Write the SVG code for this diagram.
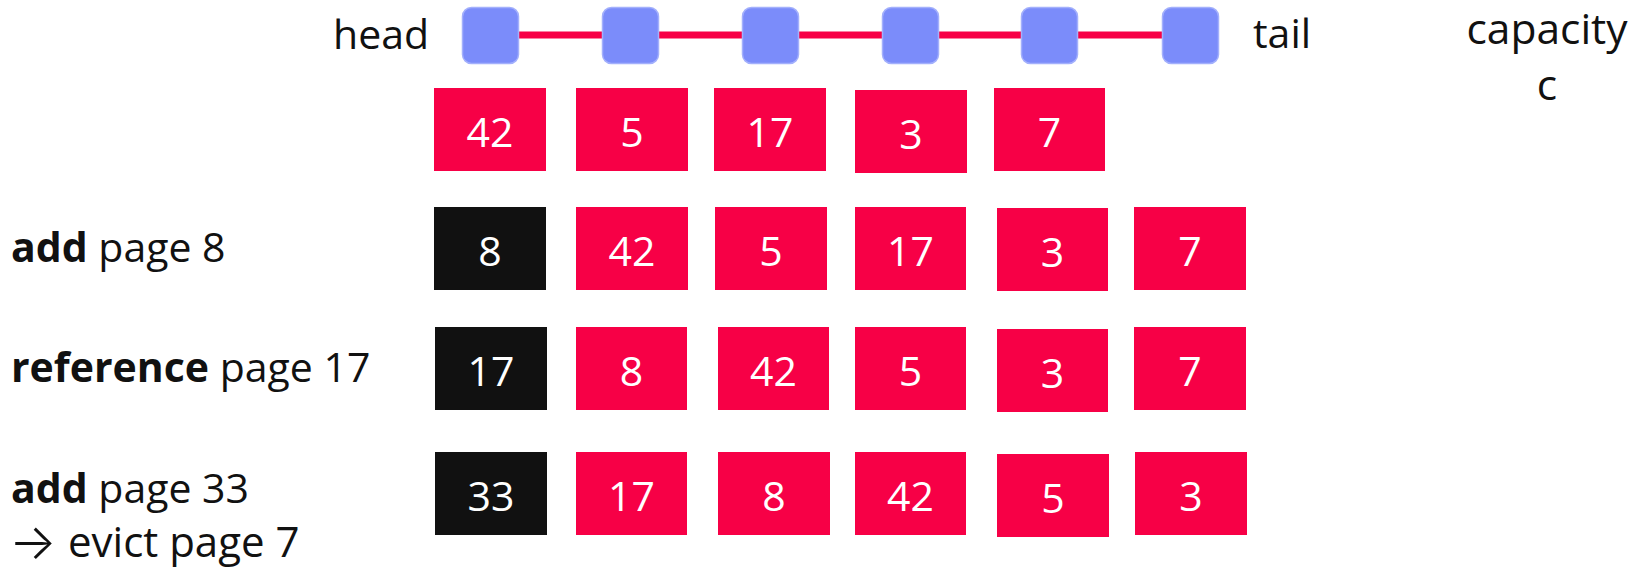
<svg xmlns="http://www.w3.org/2000/svg" width="1639" height="571" viewBox="0 0 1639 571">
<style>
.lbl{font-family:"Open Sans","Noto Sans","DejaVu Sans",sans-serif;font-size:41px;fill:#111111}
.b{font-weight:bold}
.arr{font-family:Inter,"DejaVu Sans",sans-serif;font-size:50px;font-weight:300}
.num{font-family:"Open Sans","Noto Sans",sans-serif;font-size:41px;fill:#ffffff;text-anchor:middle}
.red{fill:#F70046}
.blk{fill:#111111}
.node{fill:#7B8CFA;stroke:#A3B0FC;stroke-width:1.5}
.link{stroke:#F70046;stroke-width:7;fill:none}
</style>
<rect width="1639" height="571" fill="#ffffff"/>
<g id="connectors">
<line class="link" x1="519" y1="35" x2="602" y2="35"/>
<line class="link" x1="659" y1="35" x2="742" y2="35"/>
<line class="link" x1="799" y1="35" x2="882" y2="35"/>
<line class="link" x1="939" y1="35" x2="1021" y2="35"/>
<line class="link" x1="1078" y1="35" x2="1162" y2="35"/>
</g>
<g id="list-nodes">
<rect id="n1" class="node" x="462.5" y="7.5" width="56" height="56" rx="9"/>
<rect id="n2" class="node" x="602.5" y="7.5" width="56" height="56" rx="9"/>
<rect id="n3" class="node" x="742.5" y="7.5" width="56" height="56" rx="9"/>
<rect id="n4" class="node" x="882.5" y="7.5" width="56" height="56" rx="9"/>
<rect id="n5" class="node" x="1021.5" y="7.5" width="56" height="56" rx="9"/>
<rect id="n6" class="node" x="1162.5" y="7.5" width="56" height="56" rx="9"/>
</g>
<g id="labels">
<text class="lbl" x="333" y="49">head</text>
<text class="lbl" x="1253" y="48">tail</text>
<text class="lbl" x="1547" y="44" text-anchor="middle" style="font-size:42.5px">capacity</text>
<text class="lbl" x="1547" y="100" text-anchor="middle" style="font-size:42.5px">c</text>
<text class="lbl" x="11" y="262"><tspan class="b">add</tspan> page 8</text>
<text class="lbl" x="11" y="382"><tspan class="b">reference</tspan> page 17</text>
<text class="lbl" x="11" y="503"><tspan class="b">add</tspan> page 33</text>
<text class="lbl" x="9" y="558.5"><tspan class="arr">→</tspan><tspan x="68" y="556.5" style="font-size:42px">evict page 7</tspan></text>
</g>
<g id="row1">
<g id="r1c1"><rect class="red" x="434" y="88" width="112" height="83"/><text class="num" x="490" y="146.5">42</text></g>
<g id="r1c2"><rect class="red" x="576" y="88" width="112" height="83"/><text class="num" x="632" y="146.5">5</text></g>
<g id="r1c3"><rect class="red" x="714" y="88" width="112" height="83"/><text class="num" x="770" y="146.5">17</text></g>
<g id="r1c4"><rect class="red" x="855" y="90" width="112" height="83"/><text class="num" x="911" y="148.5">3</text></g>
<g id="r1c5"><rect class="red" x="994" y="88" width="111" height="83"/><text class="num" x="1049.5" y="146.5">7</text></g>
</g>
<g id="row2">
<g id="r2c1"><rect class="blk" x="434" y="207" width="112" height="83"/><text class="num" x="490" y="265.5">8</text></g>
<g id="r2c2"><rect class="red" x="576" y="207" width="112" height="83"/><text class="num" x="632" y="265.5">42</text></g>
<g id="r2c3"><rect class="red" x="715" y="207" width="112" height="83"/><text class="num" x="771" y="265.5">5</text></g>
<g id="r2c4"><rect class="red" x="855" y="207" width="111" height="83"/><text class="num" x="910.5" y="265.5">17</text></g>
<g id="r2c5"><rect class="red" x="997" y="208" width="111" height="83"/><text class="num" x="1052.5" y="266.5">3</text></g>
<g id="r2c6"><rect class="red" x="1134" y="207" width="112" height="83"/><text class="num" x="1190" y="265.5">7</text></g>
</g>
<g id="row3">
<g id="r3c1"><rect class="blk" x="435" y="327" width="112" height="83"/><text class="num" x="491" y="385.5">17</text></g>
<g id="r3c2"><rect class="red" x="576" y="327" width="111" height="83"/><text class="num" x="631.5" y="385.5">8</text></g>
<g id="r3c3"><rect class="red" x="718" y="327" width="111" height="83"/><text class="num" x="773.5" y="385.5">42</text></g>
<g id="r3c4"><rect class="red" x="855" y="327" width="111" height="83"/><text class="num" x="910.5" y="385.5">5</text></g>
<g id="r3c5"><rect class="red" x="997" y="329" width="111" height="83"/><text class="num" x="1052.5" y="387.5">3</text></g>
<g id="r3c6"><rect class="red" x="1134" y="327" width="112" height="83"/><text class="num" x="1190" y="385.5">7</text></g>
</g>
<g id="row4">
<g id="r4c1"><rect class="blk" x="435" y="452" width="112" height="83"/><text class="num" x="491" y="510.5">33</text></g>
<g id="r4c2"><rect class="red" x="576" y="452" width="111" height="83"/><text class="num" x="631.5" y="510.5">17</text></g>
<g id="r4c3"><rect class="red" x="718" y="452" width="112" height="83"/><text class="num" x="774" y="510.5">8</text></g>
<g id="r4c4"><rect class="red" x="855" y="452" width="111" height="83"/><text class="num" x="910.5" y="510.5">42</text></g>
<g id="r4c5"><rect class="red" x="997" y="454" width="112" height="83"/><text class="num" x="1053" y="512.5">5</text></g>
<g id="r4c6"><rect class="red" x="1135" y="452" width="112" height="83"/><text class="num" x="1191" y="510.5">3</text></g>
</g>
</svg>
